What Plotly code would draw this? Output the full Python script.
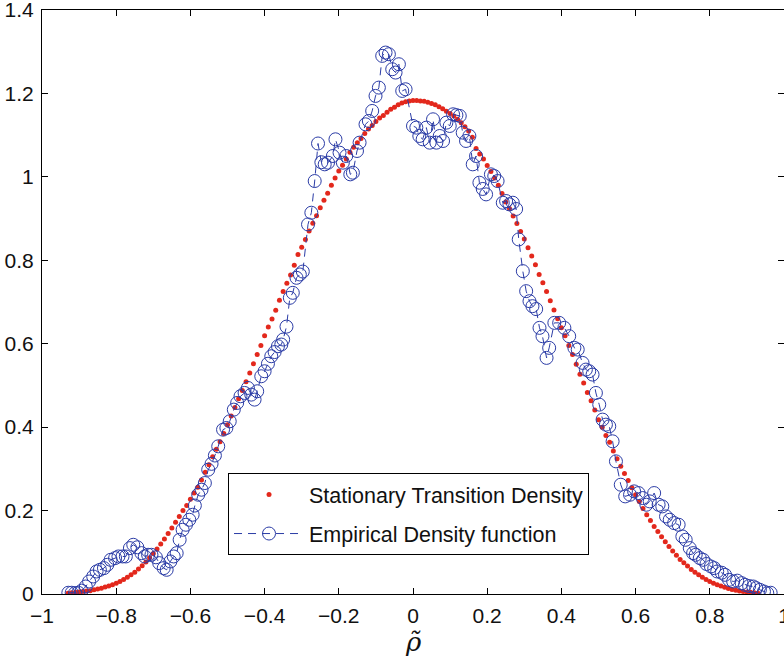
import plotly.graph_objects as go

# Stationary transition density (red dots)
stat_x = [-0.93, -0.92, -0.91, -0.90, -0.89, -0.88, -0.87, -0.86, -0.85, -0.84,
          -0.83, -0.82, -0.81, -0.80, -0.79, -0.78, -0.77, -0.76, -0.75, -0.74,
          -0.73, -0.72, -0.71, -0.70, -0.69, -0.68, -0.67, -0.66, -0.65, -0.64,
          -0.63, -0.62, -0.61, -0.60, -0.59, -0.58, -0.57, -0.56, -0.55, -0.54,
          -0.53, -0.52, -0.51, -0.50, -0.49, -0.48, -0.47, -0.46, -0.45, -0.44,
          -0.43, -0.42, -0.41, -0.40, -0.39, -0.38, -0.37, -0.36, -0.35, -0.34,
          -0.33, -0.32, -0.31, -0.30, -0.29, -0.28, -0.27, -0.26, -0.25, -0.24,
          -0.23, -0.22, -0.21, -0.20, -0.19, -0.18, -0.17, -0.16, -0.15, -0.14,
          -0.13, -0.12, -0.11, -0.10, -0.09, -0.08, -0.07, -0.06, -0.05, -0.04,
          -0.03, -0.02, -0.01, 0.00, 0.01, 0.02, 0.03, 0.04, 0.05, 0.06,
          0.07, 0.08, 0.09, 0.10, 0.11, 0.12, 0.13, 0.14, 0.15, 0.16,
          0.17, 0.18, 0.19, 0.20, 0.21, 0.22, 0.23, 0.24, 0.25, 0.26,
          0.27, 0.28, 0.29, 0.30, 0.31, 0.32, 0.33, 0.34, 0.35, 0.36,
          0.37, 0.38, 0.39, 0.40, 0.41, 0.42, 0.43, 0.44, 0.45, 0.46,
          0.47, 0.48, 0.49, 0.50, 0.51, 0.52, 0.53, 0.54, 0.55, 0.56,
          0.57, 0.58, 0.59, 0.60, 0.61, 0.62, 0.63, 0.64, 0.65, 0.66,
          0.67, 0.68, 0.69, 0.70, 0.71, 0.72, 0.73, 0.74, 0.75, 0.76,
          0.77, 0.78, 0.79, 0.80, 0.81, 0.82, 0.83, 0.84, 0.85, 0.86,
          0.87, 0.88, 0.89, 0.90, 0.91, 0.92, 0.93]
stat_y = [0.002, 0.003, 0.004, 0.005, 0.006, 0.007, 0.008, 0.010, 0.012, 0.014,
          0.017, 0.019, 0.022, 0.026, 0.030, 0.035, 0.040, 0.046, 0.052, 0.060,
          0.068, 0.077, 0.087, 0.097, 0.108, 0.120, 0.132, 0.145, 0.158, 0.172,
          0.186, 0.200, 0.212, 0.227, 0.242, 0.256, 0.273, 0.292, 0.310, 0.329,
          0.347, 0.365, 0.385, 0.406, 0.427, 0.447, 0.468, 0.488, 0.509, 0.530,
          0.552, 0.574, 0.596, 0.619, 0.640, 0.659, 0.680, 0.704, 0.725, 0.745,
          0.765, 0.788, 0.814, 0.831, 0.850, 0.870, 0.889, 0.907, 0.926, 0.944,
          0.961, 0.980, 0.997, 1.014, 1.028, 1.043, 1.059, 1.071, 1.082, 1.092,
          1.104, 1.115, 1.123, 1.133, 1.141, 1.147, 1.155, 1.162, 1.167, 1.173,
          1.177, 1.180, 1.182, 1.183, 1.183, 1.182, 1.181, 1.179, 1.176, 1.173,
          1.168, 1.163, 1.157, 1.152, 1.146, 1.138, 1.130, 1.120, 1.110, 1.095,
          1.068, 1.055, 1.043, 1.027, 1.013, 0.997, 0.980, 0.960, 0.940, 0.924,
          0.906, 0.888, 0.869, 0.851, 0.830, 0.810, 0.789, 0.766, 0.746, 0.725,
          0.703, 0.681, 0.660, 0.638, 0.619, 0.596, 0.574, 0.551, 0.527, 0.506,
          0.483, 0.463, 0.441, 0.418, 0.400, 0.380, 0.364, 0.343, 0.324, 0.306,
          0.289, 0.272, 0.255, 0.238, 0.222, 0.205, 0.190, 0.176, 0.162, 0.150,
          0.137, 0.125, 0.114, 0.103, 0.093, 0.083, 0.075, 0.067, 0.059, 0.052,
          0.046, 0.040, 0.035, 0.030, 0.026, 0.022, 0.019, 0.016, 0.013, 0.011,
          0.009, 0.007, 0.006, 0.005, 0.004, 0.003, 0.002]

# Empirical density function (blue circles, dashed)
emp_x = [-0.929, -0.920, -0.911, -0.902, -0.893, -0.882, -0.873, -0.862, -0.853, -0.844,
         -0.833, -0.824, -0.815, -0.803, -0.794, -0.783, -0.774, -0.763, -0.754, -0.743,
         -0.732, -0.723, -0.714, -0.705, -0.693, -0.684, -0.672, -0.664, -0.654, -0.645,
         -0.637, -0.629, -0.621, -0.612, -0.603, -0.594, -0.588, -0.579, -0.570, -0.561,
         -0.552, -0.543, -0.534, -0.525, -0.512, -0.503, -0.494, -0.483, -0.474, -0.465,
         -0.454, -0.445, -0.436, -0.427, -0.420, -0.409, -0.400, -0.391, -0.382, -0.373,
         -0.364, -0.355, -0.350, -0.341, -0.332, -0.324, -0.314, -0.305, -0.297, -0.283,
         -0.274, -0.265, -0.256, -0.247, -0.238, -0.229, -0.216, -0.209, -0.198, -0.189,
         -0.180, -0.169, -0.162, -0.151, -0.144, -0.128, -0.119, -0.110, -0.101, -0.092,
         -0.083, -0.074, -0.065, -0.056, -0.047, -0.038, -0.029, -0.020, 0.000, 0.009,
         0.017, 0.026, 0.036, 0.045, 0.054, 0.063, 0.072, 0.081, 0.090, 0.099,
         0.108, 0.117, 0.126, 0.134, 0.143, 0.152, 0.161, 0.170, 0.179, 0.188,
         0.197, 0.210, 0.219, 0.228, 0.242, 0.251, 0.260, 0.269, 0.278, 0.285,
         0.296, 0.305, 0.314, 0.322, 0.332, 0.341, 0.349, 0.360, 0.367, 0.381,
         0.394, 0.408, 0.421, 0.435, 0.444, 0.457, 0.466, 0.475, 0.484, 0.493,
         0.502, 0.511, 0.520, 0.529, 0.538, 0.547, 0.560, 0.572, 0.585, 0.596,
         0.608, 0.619, 0.629, 0.638, 0.650, 0.662, 0.672, 0.682, 0.692, 0.704,
         0.716, 0.726, 0.735, 0.746, 0.755, 0.762, 0.773, 0.782, 0.791, 0.803,
         0.812, 0.820, 0.832, 0.841, 0.852, 0.863, 0.874, 0.886, 0.895, 0.906,
         0.917, 0.925, 0.935, 0.946, 0.955, 0.964]
emp_y = [0.003, 0.003, 0.002, 0.003, 0.008, 0.018, 0.030, 0.042, 0.054, 0.058,
         0.062, 0.070, 0.082, 0.086, 0.090, 0.090, 0.090, 0.110, 0.118, 0.112,
         0.098, 0.090, 0.094, 0.094, 0.088, 0.074, 0.062, 0.058, 0.078, 0.090,
         0.098, 0.130, 0.154, 0.166, 0.178, 0.190, 0.212, 0.238, 0.250, 0.266,
         0.298, 0.312, 0.332, 0.354, 0.394, 0.398, 0.414, 0.442, 0.458, 0.474,
         0.482, 0.494, 0.478, 0.466, 0.486, 0.522, 0.534, 0.552, 0.570, 0.580,
         0.594, 0.598, 0.610, 0.641, 0.710, 0.722, 0.758, 0.766, 0.773, 0.886,
         0.914, 0.990, 1.080, 1.035, 1.030, 1.034, 1.050, 1.090, 1.058, 1.034,
         1.050, 1.006, 1.010, 1.062, 1.082, 1.126, 1.134, 1.158, 1.194, 1.214,
         1.290, 1.298, 1.294, 1.258, 1.250, 1.270, 1.206, 1.210, 1.122, 1.118,
         1.098, 1.090, 1.118, 1.082, 1.138, 1.082, 1.098, 1.086, 1.130, 1.122,
         1.150, 1.148, 1.146, 1.106, 1.086, 1.098, 1.030, 1.050, 0.986, 0.971,
         0.958, 1.006, 1.002, 0.990, 0.938, 0.942, 0.934, 0.938, 0.923, 0.850,
         0.774, 0.726, 0.702, 0.690, 0.683, 0.638, 0.618, 0.566, 0.590, 0.650,
         0.650, 0.638, 0.618, 0.590, 0.586, 0.554, 0.538, 0.534, 0.526, 0.482,
         0.454, 0.418, 0.406, 0.402, 0.366, 0.318, 0.262, 0.234, 0.238, 0.246,
         0.242, 0.230, 0.214, 0.222, 0.242, 0.214, 0.210, 0.186, 0.178, 0.170,
         0.166, 0.138, 0.130, 0.110, 0.098, 0.094, 0.086, 0.082, 0.072, 0.066,
         0.062, 0.054, 0.051, 0.046, 0.034, 0.030, 0.032, 0.026, 0.022, 0.019,
         0.018, 0.014, 0.010, 0.006, 0.002, 0.003]

x_ticks = [-1, -0.8, -0.6, -0.4, -0.2, 0, 0.2, 0.4, 0.6, 0.8, 1]
x_tick_text = ["\u22121", "\u22120.8", "\u22120.6", "\u22120.4", "\u22120.2", "0",
               "0.2", "0.4", "0.6", "0.8", "1"]
y_ticks = [0, 0.2, 0.4, 0.6, 0.8, 1, 1.2, 1.4]
y_tick_text = ["0", "0.2", "0.4", "0.6", "0.8", "1", "1.2", "1.4"]

RED = "#e3281c"
BLUE = "#2b3ca6"
FONT = "Liberation Sans, Arial, sans-serif"

fig = go.Figure()
fig.add_trace(go.Scatter(
    x=stat_x, y=stat_y, mode="markers",
    name="Stationary Transition Density",
    marker=dict(color=RED, size=5, line=dict(width=0)),
    legendgroup="a",
))
fig.add_trace(go.Scatter(
    x=emp_x, y=emp_y, mode="lines+markers",
    name="Empirical Density function",
    line=dict(color=BLUE, width=1, dash="8px,6px"),
    marker=dict(symbol="circle-open", size=13, color=BLUE, line=dict(width=1, color=BLUE)),
    legendgroup="b",
))

axis_common = dict(
    showline=True, linecolor="black", linewidth=1, mirror="ticks",
    ticks="inside", ticklen=6, tickwidth=1, tickcolor="black",
    showgrid=False, zeroline=False, ticklabeloverflow="allow",
    tickfont=dict(family=FONT, size=21, color="#111111"),
)

fig.update_layout(
    width=784, height=661,
    margin=dict(l=42, r=0, t=10, b=67, autoexpand=False),
    paper_bgcolor="white", plot_bgcolor="white",
    showlegend=True,
    legend=dict(
        x=0.2507, y=0.207, xanchor="left", yanchor="top",
        bgcolor="white", bordercolor="black", borderwidth=1,
        font=dict(family=FONT, size=21.5, color="#111111"),
        traceorder="grouped", tracegroupgap=8, itemwidth=70,
    ),
    xaxis=dict(range=[-1, 1], tickvals=x_ticks, ticktext=x_tick_text,
               ticklabelstandoff=3, automargin=False, **axis_common),
    yaxis=dict(range=[0, 1.4], tickvals=y_ticks, ticktext=y_tick_text,
               ticklabelstandoff=3, automargin=False, **axis_common),
    annotations=[
        dict(text="<i>\u03c1\u0303</i>", xref="paper", yref="paper",
             x=0.5, y=-0.083, xanchor="center", yanchor="middle", showarrow=False,
             font=dict(family="DejaVu Serif, serif", size=26, color="#111111")),
    ],
)

fig.write_html("out.html")
